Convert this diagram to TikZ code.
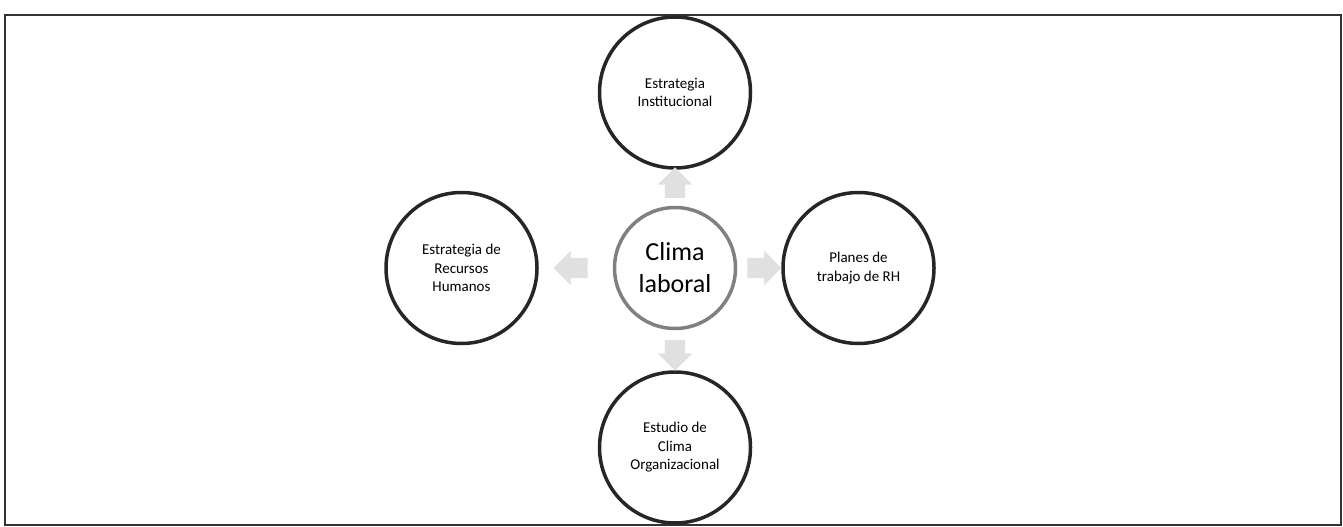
\documentclass[tikz,border=0pt]{standalone}
\usepackage{fontspec}
\setmainfont{Carlito}
\usetikzlibrary{positioning,shapes.arrows,calc}

\begin{document}
\begin{tikzpicture}[
  x=1pt, y=1pt,
  every node/.style={font=\fontsize{15}{18.5}\selectfont},
  ciclo/.style={draw=black!85, line width=3.5pt, circle, minimum size=151pt,
                align=center, inner sep=0pt},
  centro/.style={draw=black!50, line width=3.5pt, circle, minimum size=121pt,
                 align=center, inner sep=0pt, font=\fontsize{26}{32}\selectfont},
  flecha/.style={single arrow, fill=black!12, minimum height=34pt,
                 inner sep=10pt, single arrow head extend=7pt}
]
  \useasboundingbox (0,0) rectangle (1343,-527);
  \draw[line width=1.2pt, black!80] (5,-15) rectangle (1341,-525);

  \node[centro] (clima) at (675,-268) {Clima\\laboral};
  \node[ciclo, above=36pt of clima] (inst) {Estrategia\\Institucional};
  \node[ciclo, left=74pt of clima]  (rrhh) {Estrategia de\\Recursos\\Humanos};
  \node[ciclo, right=44pt of clima] (planes) {Planes de\\trabajo de RH};
  \node[ciclo, below=40pt of clima] (estudio) {Estudio de\\Clima\\Organizacional};

  % flechas que salen del centro
  \node[flecha, minimum height=26pt, shape border rotate=90]  (fu) at ($(clima.north)!0.5!(inst.south)$) {};
  \node[flecha, shape border rotate=180] (fl) at ($(clima.west)!0.5!(rrhh.east)$) {};
  \node[flecha]                          (fr) at ($(clima.east)!0.5!(planes.west)$) {};
  \node[flecha, minimum height=26pt, shape border rotate=270] (fd) at ($(clima.south)!0.5!(estudio.north)$) {};
\end{tikzpicture}
\end{document}
